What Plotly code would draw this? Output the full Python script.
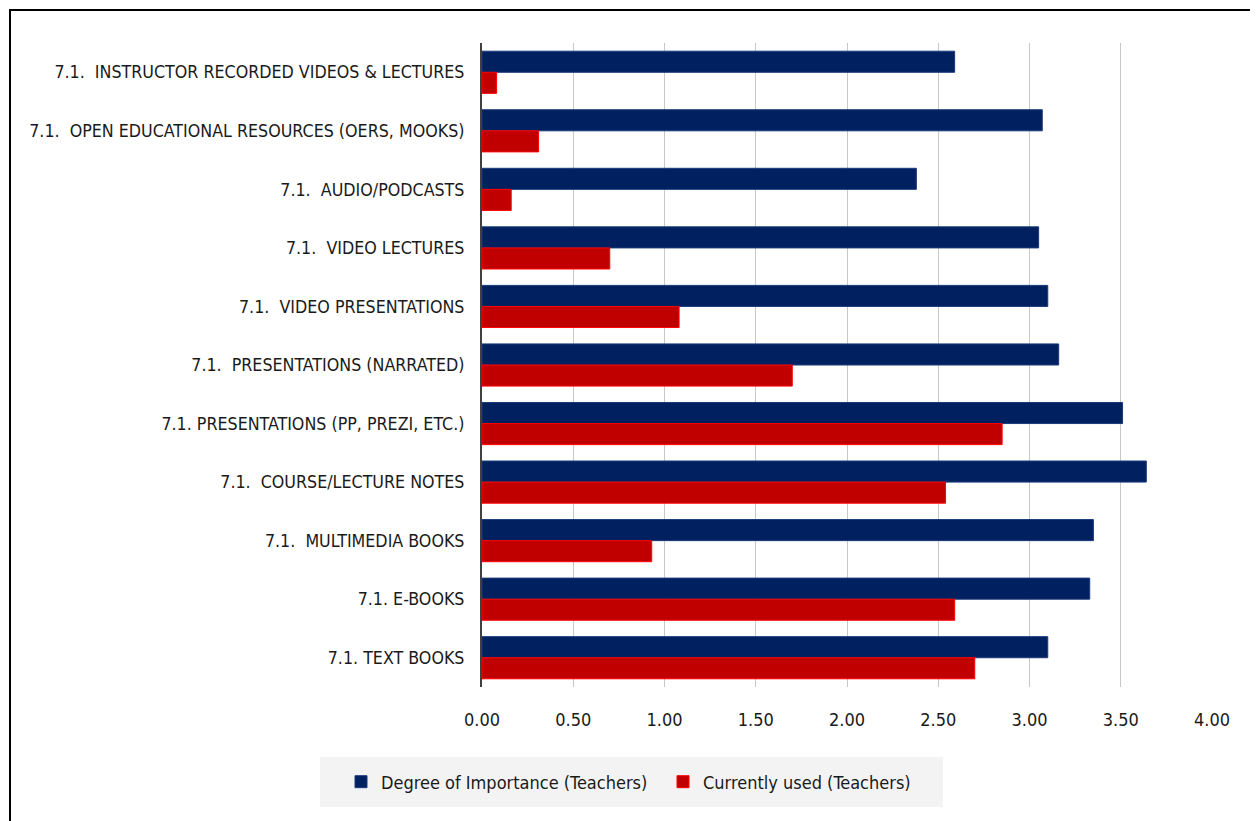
import plotly.graph_objects as go

categories = [
    "7.1.  INSTRUCTOR RECORDED VIDEOS & LECTURES",
    "7.1.  OPEN EDUCATIONAL RESOURCES (OERS, MOOKS)",
    "7.1.  AUDIO/PODCASTS",
    "7.1.  VIDEO LECTURES",
    "7.1.  VIDEO PRESENTATIONS",
    "7.1.  PRESENTATIONS (NARRATED)",
    "7.1. PRESENTATIONS (PP, PREZI, ETC.)",
    "7.1.  COURSE/LECTURE NOTES",
    "7.1.  MULTIMEDIA BOOKS",
    "7.1. E-BOOKS",
    "7.1. TEXT BOOKS",
]
importance = [2.59, 3.07, 2.38, 3.05, 3.10, 3.16, 3.51, 3.64, 3.35, 3.33, 3.10]
currently_used = [0.08, 0.31, 0.16, 0.70, 1.08, 1.70, 2.85, 2.54, 0.93, 2.59, 2.70]
x_ticks = [0, 0.5, 1.0, 1.5, 2.0, 2.5, 3.0, 3.5, 4.0]

FONT = "DejaVu Sans Condensed, Liberation Sans, sans-serif"

fig = go.Figure()
fig.add_trace(go.Bar(
    y=categories, x=importance, orientation="h",
    name="Degree of Importance (Teachers)",
    marker=dict(color="#002060", line=dict(color="#1a3a7a", width=1)),
))
fig.add_trace(go.Bar(
    y=categories, x=currently_used, orientation="h",
    name="Currently used (Teachers)",
    marker=dict(color="#c00000", line=dict(color="#ff0000", width=1)),
))

# page has an 8px body margin; positions below are page pixels minus that offset
OFF = 8
W, H = 1250, 813
L = 482 - OFF
T = 43 - OFF
R = W - (1212 - OFF)
B = H - (687 - OFF)
pw, ph = W - L - R, H - T - B

def px2x(px):
    return (px - OFF - L) / pw

def py2y(py):
    return (H - B - (py - OFF)) / ph

fig.update_layout(
    width=W, height=H,
    margin=dict(l=L, r=R, t=T, b=B, autoexpand=False),
    paper_bgcolor="white", plot_bgcolor="white",
    barmode="group", bargap=0.28, bargroupgap=0,
    font=dict(family=FONT, color="#1a1a1a"),
    showlegend=True,
    legend=dict(
        orientation="h", x=px2x(341), xanchor="left",
        y=py2y(782), yanchor="middle",
        bgcolor="rgba(0,0,0,0)", font=dict(size=18, family=FONT, color="#1a1a1a"),
        entrywidth=277, entrywidthmode="pixels", traceorder="normal",
    ),
    xaxis=dict(
        range=[0, 4], tickvals=x_ticks, tickformat=".2f",
        showgrid=True, gridcolor="#c8c8c8", gridwidth=1,
        zeroline=False, showline=False, ticks="", automargin=False,
        tickfont=dict(size=18, family=FONT, color="#1a1a1a"),
        ticklabelstandoff=20,
    ),
    yaxis=dict(
        autorange="reversed", showline=True, linecolor="#404040", linewidth=2,
        ticks="", automargin=False,
        tickfont=dict(size=17.7, family=FONT, color="#1a1a1a"),
        ticklabelstandoff=12, showgrid=False,
    ),
    shapes=[
        dict(type="rect", xref="paper", yref="paper",
             x0=px2x(320), x1=px2x(943), y0=py2y(807), y1=py2y(757),
             fillcolor="#f3f3f3", line=dict(width=0), layer="below"),
        dict(type="rect", xref="paper", yref="paper",
             x0=px2x(10), x1=px2x(1253), y0=py2y(10), y1=py2y(840),
             fillcolor="rgba(0,0,0,0)", line=dict(color="black", width=2)),
    ],
)

fig.write_html("out.html")
